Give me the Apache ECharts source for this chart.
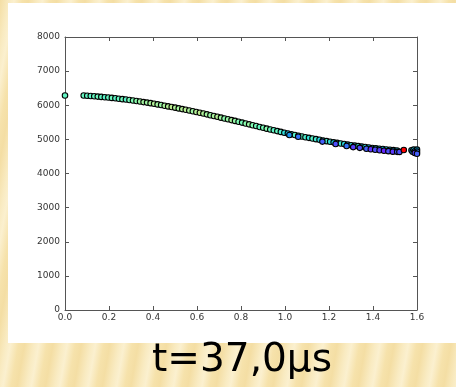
<!DOCTYPE html>
<html>
<head>
<meta charset="utf-8">
<script src="https://cdn.jsdelivr.net/npm/echarts@6/dist/echarts.min.js"></script>
<style>
  html, body { margin: 0; padding: 0; }
  body {
    width: 456px; height: 387px; overflow: hidden;
    background-color: #f8e7b4;
    background-image: repeating-linear-gradient(100deg,
      #f4dea4 0px, #f9ebc2 9px, #fbf0cf 14px, #f6e2ab 22px, #f4dea4 28px);
  }
  #chart { width: 456px; height: 387px; }
</style>
</head>
<body>
<div id="chart"></div>
<script>
// Front velocity profile at t = 37.0 µs: position (x) vs velocity (y), colour = third field
const curveX = [0.0,
  0.085, 0.101, 0.117, 0.133, 0.149, 0.165, 0.181, 0.197, 0.213, 0.229,
  0.245, 0.261, 0.277, 0.293, 0.309, 0.325, 0.341, 0.357, 0.373, 0.389,
  0.405, 0.421, 0.437, 0.453, 0.469, 0.485, 0.501, 0.517, 0.533, 0.549,
  0.565, 0.581, 0.597, 0.613, 0.629, 0.645, 0.661, 0.677, 0.693, 0.709,
  0.725, 0.741, 0.757, 0.773, 0.789, 0.805, 0.821, 0.837, 0.853, 0.869,
  0.885, 0.901, 0.917, 0.933, 0.949, 0.965, 0.981, 0.997, 1.013, 1.029,
  1.045, 1.061, 1.077, 1.093, 1.109, 1.125, 1.141, 1.157, 1.173, 1.189,
  1.205, 1.221, 1.237, 1.253, 1.269, 1.285, 1.301, 1.317, 1.333, 1.349,
  1.365, 1.381, 1.397, 1.413, 1.429, 1.445, 1.461, 1.477, 1.493, 1.509];
const curveY = [6285,
  6284, 6279, 6271, 6262, 6253, 6244, 6235, 6227, 6215, 6203,
  6191, 6179, 6167, 6155, 6141, 6125, 6109, 6093, 6077, 6061,
  6044, 6025, 6006, 5986, 5967, 5948, 5929, 5908, 5887, 5866,
  5846, 5825, 5804, 5781, 5757, 5733, 5709, 5685, 5661, 5637,
  5613, 5589, 5565, 5541, 5517, 5492, 5466, 5441, 5415, 5390,
  5364, 5339, 5315, 5291, 5267, 5243, 5219, 5195, 5172, 5151,
  5129, 5108, 5086, 5064, 5044, 5025, 5006, 4987, 4967, 4948,
  4930, 4913, 4896, 4879, 4863, 4846, 4829, 4816, 4802, 4788,
  4775, 4761, 4748, 4737, 4726, 4716, 4705, 4695, 4684, 4675];
const curveC = [0.44,
  0.45, 0.44, 0.43, 0.45, 0.46, 0.44, 0.42, 0.45, 0.46, 0.43,
  0.45, 0.47, 0.42, 0.48, 0.50, 0.52, 0.55, 0.57, 0.56, 0.58,
  0.60, 0.57, 0.55, 0.58, 0.60, 0.62, 0.59, 0.57, 0.60, 0.61,
  0.58, 0.56, 0.60, 0.62, 0.59, 0.57, 0.55, 0.58, 0.60, 0.56,
  0.52, 0.55, 0.58, 0.54, 0.50, 0.48, 0.52, 0.55, 0.50, 0.47,
  0.45, 0.48, 0.52, 0.46, 0.43, 0.45, 0.40, 0.34, 0.30, 0.36,
  0.42, 0.38, 0.44, 0.40, 0.35, 0.42, 0.38, 0.33, 0.37, 0.40,
  0.34, 0.30, 0.36, 0.38, 0.33, 0.28, 0.34, 0.31, 0.36, 0.30,
  0.33, 0.28, 0.32, 0.35, 0.30, 0.26, 0.31, 0.28, 0.25, 0.30];

// Slower particles running just below the main band
const lowerX = [1.02, 1.06, 1.17, 1.23, 1.28, 1.31, 1.34, 1.37, 1.39, 1.41, 1.43, 1.45, 1.47, 1.49, 1.51, 1.52];
const lowerY = [5130, 5075, 4935, 4863, 4806, 4774, 4751, 4725, 4709, 4694, 4680, 4668, 4655, 4641, 4634, 4633];
const lowerC = [0.20, 0.15, 0.12, 0.10, 0.15, 0.08, 0.10, 0.12, 0.06, 0.10, 0.08, 0.05, 0.10, 0.07, 0.12, 0.10];

// Tip of the profile near the wall
const tailX = [1.54, 1.575, 1.58, 1.585, 1.59, 1.595, 1.60, 1.60, 1.59, 1.60];
const tailY = [4690, 4680, 4640, 4700, 4650, 4610, 4700, 4640, 4600, 4580];
const tailC = [1.00, 0.28, 0.20, 0.30, 0.15, 0.10, 0.25, 0.18, 0.08, 0.12];

const xTicks = { min: 0, max: 1.6, interval: 0.2 };
const yTicks = { min: 0, max: 8000, interval: 1000 };
const caption = 't=37,0μs';

const points = [];
[[curveX, curveY, curveC], [lowerX, lowerY, lowerC], [tailX, tailY, tailC]].forEach(([xs, ys, cs]) => {
  xs.forEach((x, i) => points.push([x, ys[i], cs[i]]));
});

// matplotlib "rainbow" colormap samples
const rainbow = ['#8000ff', '#4062fa', '#00b4eb', '#40ebd4', '#80ffb4', '#c0eb8e', '#ffb462', '#ff6232', '#ff0000'];

const frame = '#555';
const tickFont = { fontFamily: 'DejaVu Sans', fontSize: 9, color: '#333' };

function axisBase(extra) {
  return Object.assign({
    type: 'value',
    axisLine: { show: true, onZero: false, lineStyle: { color: frame, width: 1 } },
    axisTick: { show: true, inside: true, length: 4, lineStyle: { color: frame } },
    splitLine: { show: false }
  }, extra);
}

const chart = echarts.init(document.getElementById('chart'), null, { renderer: 'canvas' });
chart.setOption({
  backgroundColor: 'transparent',
  animation: false,
  graphic: [
    { type: 'rect', z: -10, shape: { x: 8, y: 3, width: 448, height: 340 }, style: { fill: '#ffffff' } },
    { type: 'text', x: 242, y: 361, style: {
        text: caption, font: '39px "DejaVu Sans"', fill: '#000',
        textAlign: 'center', textVerticalAlign: 'middle' } }
  ],
  grid: { left: 65, right: 39, top: 37, bottom: 77 },
  xAxis: [
    axisBase(Object.assign({ position: 'bottom',
      axisLabel: Object.assign({ margin: 3, formatter: v => v.toFixed(1) }, tickFont) }, xTicks)),
    axisBase(Object.assign({ position: 'top', axisLabel: { show: false } }, xTicks))
  ],
  yAxis: [
    axisBase(Object.assign({ position: 'left',
      axisLabel: Object.assign({ margin: 5, formatter: v => String(v) }, tickFont) }, yTicks)),
    axisBase(Object.assign({ position: 'right', axisLabel: { show: false } }, yTicks))
  ],
  visualMap: {
    show: false, type: 'continuous', dimension: 2, min: 0, max: 1,
    seriesIndex: 0, inRange: { color: rainbow }
  },
  series: [{
    type: 'scatter',
    data: points,
    symbolSize: 5.5,
    itemStyle: { borderColor: '#000', borderWidth: 1.1, opacity: 1 }
  }]
});
</script>
</body>
</html>
